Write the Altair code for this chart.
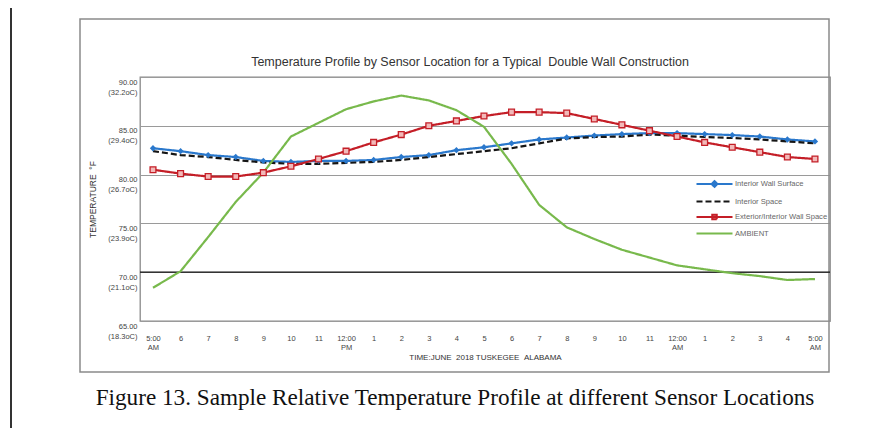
import json
import altair as alt
import pandas as pd

# ---------------- data ----------------
HOURS = list(range(25))
X_LABELS = ["5:00|AM", "6", "7", "8", "9", "10", "11", "12:00|PM", "1", "2", "3", "4",
            "5", "6", "7", "8", "9", "10", "11", "12:00|AM", "1", "2", "3", "4", "5:00|AM"]
SERIES = ["Interior Wall Surface", "Interior Space", "Exterior/Interior Wall Space", "AMBIENT"]
INTERIOR_WALL = [82.7, 82.4, 82.0, 81.8, 81.4, 81.3, 81.4, 81.4, 81.5, 81.8, 82.0, 82.5, 82.8,
                 83.2, 83.6, 83.8, 84.0, 84.15, 84.25, 84.25, 84.15, 84.05, 83.9, 83.6, 83.4]
INTERIOR_SPACE = [82.4, 82.0, 81.8, 81.5, 81.25, 81.1, 81.1, 81.2, 81.3, 81.5, 81.8, 82.1, 82.4,
                  82.7, 83.2, 83.7, 83.85, 83.9, 84.1, 84.0, 83.85, 83.75, 83.6, 83.4, 83.2]
EXT_INT = [80.5, 80.1, 79.8, 79.8, 80.2, 80.85, 81.6, 82.4, 83.3, 84.1, 85.0, 85.5, 86.0,
           86.4, 86.4, 86.3, 85.7, 85.1, 84.5, 83.9, 83.3, 82.8, 82.3, 81.8, 81.6]
AMBIENT = [68.4, 70.1, 73.6, 77.2, 80.2, 83.9, 85.3, 86.7, 87.5, 88.1, 87.6, 86.6, 84.9,
           81.1, 76.9, 74.6, 73.4, 72.3, 71.5, 70.7, 70.3, 69.9, 69.6, 69.2, 69.3]
Y_TICKS = [65, 70, 75, 80, 85, 90]
Y_LABELS = ["65.00|(18.3oC)", "70.00|(21.1oC)", "75.00|(23.9oC)",
            "80.00|(26.7oC)", "85.00|(29.4oC)", "90.00|(32.2oC)"]
TITLE = "Temperature Profile by Sensor Location for a Typical \u00a0Double Wall Construction"
X_TITLE = "TIME:JUNE \u00a02018 TUSKEGEE \u00a0ALABAMA"
Y_TITLE = "TEMPERATURE \u00a0\u00b0F"
CAPTION = "Figure 13. Sample Relative Temperature Profile at different Sensor Locations"

# ---------------- styles ----------------
BLUE, BLACK, RED, GREEN = "#2a78cc", "#151515", "#c41e27", "#78b94c"
COLORS = [BLUE, BLACK, RED, GREEN]
FILLS = [BLUE, BLACK, "#f2b9b9", GREEN]
DASHES = [[1, 0], [6, 3], [1, 0], [1, 0]]
LEG_PATHS = [
    "M-4,0H4M0,-0.65L0.65,0L0,0.65L-0.65,0Z",
    "M-4,0H4",
    "M-4,0H4M-0.5,-0.5H0.5V0.5H-0.5Z",
    "M-4,0H4",
]
FONT = "Liberation Sans"

rows = []
for name, vals in zip(SERIES, [INTERIOR_WALL, INTERIOR_SPACE, EXT_INT, AMBIENT]):
    for h, v in zip(HOURS, vals):
        rows.append({"hour": h, "series": name, "value": v})
df = pd.DataFrame(rows)
one = pd.DataFrame({"k": [0]})

x_expr = "split(" + json.dumps(X_LABELS) + "[datum.value], '|')"
y_expr = "split(" + json.dumps(Y_LABELS) + "[(datum.value-65)/5], '|')"

x_enc = alt.X(
    "hour:Q",
    scale=alt.Scale(domain=[-0.471, 24.545], nice=False, zero=False),
    axis=alt.Axis(values=HOURS, labelExpr=x_expr, title=X_TITLE, grid=False, ticks=False,
                  domain=False, labelFlush=False, labelOverlap=False, labelFont=FONT,
                  labelFontSize=7.5, labelLineHeight=9, labelColor="#444", labelPadding=17,
                  labelBaseline="middle",
                  titleFont=FONT, titleFontSize=8, titleFontWeight="normal", titleColor="#333",
                  titlePadding=3),
)
y_enc = alt.Y(
    "value:Q",
    scale=alt.Scale(domain=[65, 90], nice=False, zero=False),
    axis=alt.Axis(values=Y_TICKS, labelExpr=y_expr, title=Y_TITLE, grid=True, gridColor="#9a9a9a",
                  gridWidth=1.2, ticks=False, domain=False, labelFont=FONT, labelFontSize=7.5,
                  labelLineHeight=10, labelColor="#444", labelPadding=3, labelOffset=5,
                  labelBaseline="middle",
                  titleFont=FONT, titleFontSize=8.5, titleFontWeight="normal", titleColor="#333",
                  titleAngle=-90, titleX=-48, titleY=122, titleAlign="center",
                  titleBaseline="middle"),
)

leg = alt.Legend(title=None, orient="none", legendX=557, legendY=101.5, symbolSize=81,
                 symbolStrokeWidth=2, symbolOffset=12, labelOffset=15, labelFont=FONT,
                 labelFontSize=7.6, labelColor="#666", rowPadding=4.5, labelLimit=200)
stroke_scale = alt.Scale(domain=SERIES, range=COLORS)
dash_scale = alt.Scale(domain=SERIES, range=DASHES)

# frames
outer_top = alt.Chart(one).mark_rule(color="#333", strokeWidth=2).encode(
    x=alt.value(-129), x2=alt.value(760), y=alt.value(-70))
outer_left = alt.Chart(one).mark_rule(color="#333", strokeWidth=2).encode(
    x=alt.value(-129), y=alt.value(-70), y2=alt.value(360))
box = alt.Chart(one).mark_rect(fill=None, stroke="#8a8a8a", strokeWidth=1.5).encode(
    x=alt.value(-60), x2=alt.value(689), y=alt.value(-58), y2=alt.value(295))

grid70 = alt.Chart(one).mark_rule(color="#111", strokeWidth=1.3).encode(y=alt.YDatum(70))

lines = alt.Chart(df).mark_line(strokeWidth=2.2).encode(
    x=x_enc, y=y_enc,
    stroke=alt.Stroke("series:N", scale=stroke_scale, legend=leg),
    strokeDash=alt.StrokeDash("series:N", scale=dash_scale, legend=leg),
    order=alt.Order("hour:Q"),
)
blue_pts = alt.Chart(df).transform_filter(alt.datum.series == SERIES[0]).mark_point(
    shape="diamond", filled=True, size=40, color=BLUE, opacity=1).encode(x=x_enc, y=y_enc)
red_pts = alt.Chart(df).transform_filter(alt.datum.series == SERIES[2]).mark_point(
    shape="square", filled=True, size=34, fill="#f2b9b9", stroke=RED, strokeWidth=1.3,
    opacity=1).encode(x=x_enc, y=y_enc)

legend_layer = alt.Chart(df).transform_filter("false").mark_point(
    filled=True, opacity=1, strokeWidth=2).encode(
    shape=alt.Shape("series:N", scale=alt.Scale(domain=SERIES, range=LEG_PATHS), legend=leg),
    stroke=alt.Stroke("series:N", scale=stroke_scale, legend=leg),
    fill=alt.Fill("series:N", scale=alt.Scale(domain=SERIES, range=FILLS), legend=leg),
    strokeDash=alt.StrokeDash("series:N", scale=dash_scale, legend=leg),
)

title_t = alt.Chart(one).mark_text(text=TITLE, font=FONT, fontSize=12.5, color="#333",
                                   align="center", baseline="middle").encode(
    x=alt.value(330), y=alt.value(-15))
caption_t = alt.Chart(one).mark_text(text=CAPTION, font="Liberation Serif", fontSize=23.2,
                                     color="#111", align="center", baseline="alphabetic").encode(
    x=alt.value(315), y=alt.value(328))

chart = alt.layer(
    outer_top, outer_left, box, grid70, lines, blue_pts, red_pts, legend_layer, title_t, caption_t
).properties(
    width=690, height=244,
    padding={"left": 132, "top": 69, "right": 43, "bottom": 107},
    autosize=alt.AutoSizeParams(type="none"),
).configure_view(stroke="#8a8a8a", strokeWidth=1.3)

chart.save("out.html", embed_options={"renderer": "svg", "actions": False})
